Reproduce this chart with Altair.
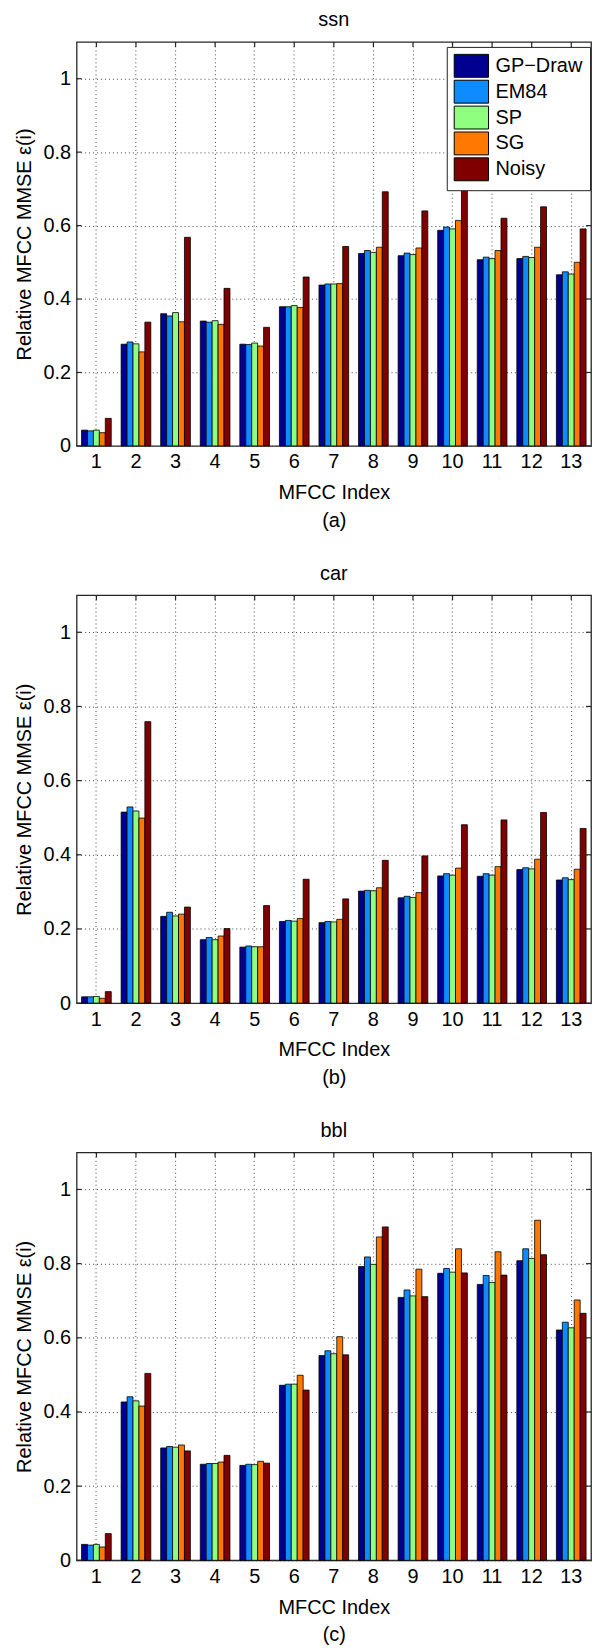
import altair as alt
import pandas as pd

mfcc_index = list(range(1, 14))
methods = ["GP−Draw", "EM84", "SP", "SG", "Noisy"]
method_colors = ["#000090", "#0D8BFF", "#8EFF7E", "#FF7800", "#800000"]
y_tick_values = [0, 0.2, 0.4, 0.6, 0.8, 1.0]

ssn_gp_draw = [0.043, 0.277, 0.360, 0.340, 0.277, 0.379, 0.438, 0.524, 0.518, 0.587, 0.507, 0.510, 0.466]
ssn_em84 = [0.041, 0.283, 0.354, 0.337, 0.276, 0.379, 0.441, 0.532, 0.525, 0.596, 0.514, 0.516, 0.474]
ssn_sp = [0.043, 0.278, 0.363, 0.341, 0.280, 0.382, 0.441, 0.527, 0.521, 0.591, 0.510, 0.513, 0.468]
ssn_sg = [0.036, 0.256, 0.338, 0.331, 0.272, 0.377, 0.442, 0.541, 0.539, 0.614, 0.532, 0.541, 0.500]
ssn_noisy = [0.075, 0.337, 0.568, 0.429, 0.323, 0.460, 0.543, 0.692, 0.640, 0.770, 0.620, 0.651, 0.591]

car_gp_draw = [0.017, 0.515, 0.234, 0.171, 0.151, 0.220, 0.217, 0.302, 0.284, 0.343, 0.342, 0.360, 0.332]
car_em84 = [0.017, 0.529, 0.245, 0.177, 0.154, 0.223, 0.220, 0.304, 0.288, 0.349, 0.349, 0.365, 0.338]
car_sp = [0.018, 0.518, 0.235, 0.171, 0.152, 0.221, 0.219, 0.303, 0.285, 0.345, 0.345, 0.362, 0.333]
car_sg = [0.013, 0.499, 0.240, 0.181, 0.152, 0.228, 0.226, 0.311, 0.298, 0.364, 0.368, 0.388, 0.361]
car_noisy = [0.031, 0.759, 0.259, 0.201, 0.263, 0.334, 0.281, 0.385, 0.397, 0.481, 0.494, 0.514, 0.471]

bbl_gp_draw = [0.043, 0.427, 0.303, 0.259, 0.256, 0.472, 0.552, 0.792, 0.709, 0.774, 0.744, 0.808, 0.621]
bbl_em84 = [0.041, 0.441, 0.307, 0.261, 0.259, 0.475, 0.565, 0.818, 0.729, 0.787, 0.768, 0.840, 0.642]
bbl_sp = [0.043, 0.430, 0.305, 0.261, 0.258, 0.475, 0.557, 0.798, 0.713, 0.777, 0.749, 0.814, 0.627]
bbl_sg = [0.036, 0.416, 0.311, 0.265, 0.267, 0.499, 0.603, 0.872, 0.785, 0.840, 0.832, 0.917, 0.702]
bbl_noisy = [0.072, 0.504, 0.295, 0.283, 0.262, 0.459, 0.554, 0.899, 0.711, 0.775, 0.769, 0.824, 0.666]

FONT = "Liberation Sans"
W = 517
FRAME = "#262626"


def long_df(series):
    rows = []
    for m, vals in zip(methods, series):
        for i, v in zip(mfcc_index, vals):
            rows.append({"idx": i, "method": m, "value": v})
    return pd.DataFrame(rows)


def panel(name, label, series, height, show_legend):
    df = long_df(series)
    if show_legend:
        legend = alt.Legend(
            orient="none", legendX=372, legendY=5, title=None,
            fillColor="white", strokeColor="#222222", padding=7,
            labelFontSize=20, labelFont=FONT, labelColor="black",
            symbolType="M-1,-1H2V1H-1Z", symbolSize=529,
            symbolStrokeColor="black", symbolStrokeWidth=1, symbolOpacity=1,
            rowPadding=-4.5, labelOffset=18, labelLimit=200,
        )
    else:
        legend = None
    bars = alt.Chart(df).mark_bar(stroke="black", strokeWidth=0.8, opacity=1).encode(
        x=alt.X(
            "idx:O", title=["MFCC Index", label],
            scale=alt.Scale(paddingInner=0.25, paddingOuter=0.125),
            axis=alt.Axis(labelAngle=0, grid=True, bandPosition=0.5, ticks=False,
                          domain=False, labelPadding=6, titlePadding=11,
                          titleLineHeight=28),
        ),
        xOffset=alt.XOffset("method:N", sort=methods,
                            scale=alt.Scale(domain=methods, paddingInner=0, paddingOuter=0)),
        y=alt.Y(
            "value:Q", title="Relative MFCC MMSE ε(i)",
            scale=alt.Scale(domain=[0, 1.1], nice=False, zero=True),
            axis=alt.Axis(values=y_tick_values, format="~g", ticks=False, domain=False,
                          grid=True, labelPadding=6, titlePadding=9),
        ),
        color=alt.Color("method:N", sort=methods,
                        scale=alt.Scale(domain=methods, range=method_colors),
                        legend=legend),
    )
    tick_df = pd.DataFrame({"value": y_tick_values})
    left_ticks = alt.Chart(tick_df).mark_rule(color=FRAME, strokeWidth=1.2).encode(
        y="value:Q", x=alt.value(0), x2=alt.value(5))
    right_ticks = alt.Chart(tick_df).mark_rule(color=FRAME, strokeWidth=1.2).encode(
        y="value:Q", x=alt.value(W - 5), x2=alt.value(W))
    top_df = pd.DataFrame({"idx": mfcc_index})
    top_ticks = alt.Chart(top_df).mark_rule(color=FRAME, strokeWidth=1.2).encode(
        x="idx:O", y=alt.value(0), y2=alt.value(5))
    return alt.layer(bars, left_ticks, right_ticks, top_ticks).properties(
        width=W, height=height,
        title=alt.TitleParams(text=name, fontSize=20, fontWeight="normal", font=FONT,
                              color="black", anchor="middle", offset=11),
    )


pa = panel("ssn", "(a)", [ssn_gp_draw, ssn_em84, ssn_sp, ssn_sg, ssn_noisy], 406, True)
pb = panel("car", "(b)", [car_gp_draw, car_em84, car_sp, car_sg, car_noisy], 410, False)
pc = panel("bbl", "(c)", [bbl_gp_draw, bbl_em84, bbl_sp, bbl_sg, bbl_noisy], 410, False)

chart = alt.vconcat(pa, pb, pc, spacing=150, bounds="flush").properties(
    padding={"left": 13, "top": 5, "right": 4, "bottom": 5},
    background="white",
).configure_axis(
    labelFont=FONT, titleFont=FONT, labelFontSize=20, titleFontSize=20,
    labelColor="black", titleColor="black", titleFontWeight="normal",
    gridColor="#444444", gridDash=[1, 3], gridOpacity=1, gridWidth=1,
).configure_view(stroke=FRAME, strokeWidth=1.3)

chart.save("out.html", embed_options={"renderer": "svg", "actions": False})
